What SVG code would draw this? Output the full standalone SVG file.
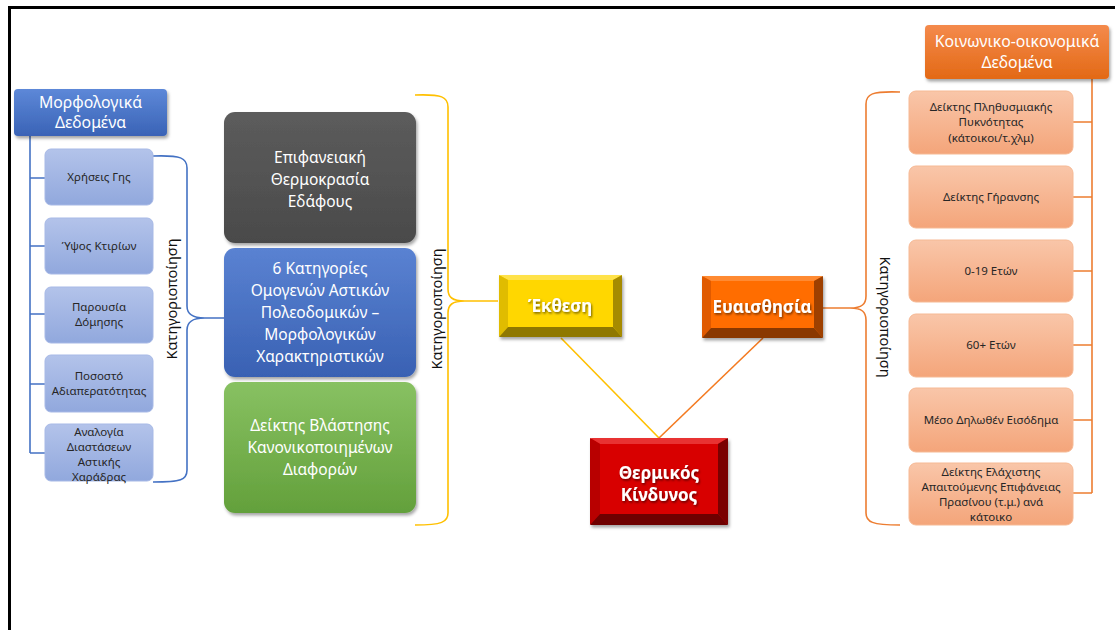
<svg xmlns="http://www.w3.org/2000/svg" width="1115" height="630" viewBox="0 0 1115 630">
<style>
text{font-family:"Noto Sans","Open Sans","DejaVu Sans",sans-serif;text-anchor:middle}
.hdr{fill:#fff;font-size:15.8px}
.big{fill:#fff;font-size:15.5px}
.small{fill:#262626;font-size:11.5px}
.bev{fill:#fff;font-size:17px;font-weight:bold}
.lbl{fill:#111;font-size:14.5px}
.conn{fill:none;stroke-width:1.6}
</style>
<defs>
<filter id="sh" x="-10%" y="-10%" width="130%" height="140%"><feDropShadow dx="1.5" dy="2.5" stdDeviation="1.8" flood-color="#000" flood-opacity="0.35"/></filter>
<filter id="ts" x="-10%" y="-20%" width="130%" height="150%"><feDropShadow dx="1" dy="1.5" stdDeviation="0.8" flood-color="#000" flood-opacity="0.55"/></filter>
<linearGradient id="gBlueH" x1="0" y1="0" x2="0" y2="1"><stop offset="0" stop-color="#5d88d8"/><stop offset="1" stop-color="#3a63b6"/></linearGradient>
<linearGradient id="gBlueL" x1="0" y1="0" x2="0" y2="1"><stop offset="0" stop-color="#b3c3ea"/><stop offset="1" stop-color="#91a8dd"/></linearGradient>
<linearGradient id="gGray" x1="0" y1="0" x2="0" y2="1"><stop offset="0" stop-color="#5c5c5c"/><stop offset="1" stop-color="#4a4a4a"/></linearGradient>
<linearGradient id="gBlue" x1="0" y1="0" x2="0" y2="1"><stop offset="0" stop-color="#5a82d2"/><stop offset="1" stop-color="#3961b3"/></linearGradient>
<linearGradient id="gGreen" x1="0" y1="0" x2="0" y2="1"><stop offset="0" stop-color="#88c162"/><stop offset="1" stop-color="#63a03b"/></linearGradient>
<linearGradient id="gOrH" x1="0" y1="0" x2="0" y2="1"><stop offset="0" stop-color="#f48a4c"/><stop offset="1" stop-color="#e36915"/></linearGradient>
<linearGradient id="gOrL" x1="0" y1="0" x2="0" y2="1"><stop offset="0" stop-color="#f9c6a9"/><stop offset="1" stop-color="#f4a57a"/></linearGradient>
</defs>
<rect width="1115" height="630" fill="#fff"/>
<path d="M9.5,630 L9.5,7.5 L1115,7.5" fill="none" stroke="#000" stroke-width="3"/>

<g id="connectors">
<path class="conn" stroke="#4472c4" d="M30,136 L30,453 M30,178 L45,178 M30,246 L45,246 M30,314 L45,314 M30,384 L45,384 M30,453 L45,453"/>
<path class="conn" stroke="#4472c4" d="M153,156 C181,155 187,158 187,168 L187,306 C187,314 192,318 205,318 L224,318 M205,318 C192,318 187,322 187,330 L187,470 C187,480 181,482 153,482"/>
<path class="conn" stroke="#ffc000" d="M415,95 C442,94 448,97 448,107 L448,289 C448,297 452,301 465,301 L498,301 M465,301 C452,301 448,305 448,313 L448,513 C448,522 442,525 415,525"/>
<path class="conn" stroke="#ed7d31" d="M900,92 C872,91 866,94 866,104 L866,296 C866,304 862,308 850,308 L823,308 M850,308 C862,308 866,312 866,320 L866,513 C866,522 872,525 900,525"/>
<path class="conn" stroke="#ed7d31" d="M1092,79 L1092,493 M1073,122 L1092,122 M1073,197 L1092,197 M1073,271 L1092,271 M1073,345 L1092,345 M1073,420 L1092,420 M1073,493 L1092,493"/>
<path class="conn" stroke="#ffc000" d="M561,338 L659,438"/>
<path class="conn" stroke="#f47a20" d="M763,338 L659,438"/>
</g>

<g id="lbl-left"><text class="lbl" transform="translate(177,299) rotate(-90)">Κατηγοριοποίηση</text></g>
<g id="lbl-mid"><text class="lbl" transform="translate(442,309) rotate(-90)">Κατηγοριοποίηση</text></g>
<g id="lbl-right"><text class="lbl" transform="translate(880,317) rotate(90)">Κατηγοριοποίηση</text></g>

<g id="morfo">
<rect x="14" y="89" width="153" height="47" rx="4" fill="url(#gBlueH)" filter="url(#sh)"/>
<text class="hdr" x="90.5" y="108">Μορφολογικά</text>
<text class="hdr" x="90.5" y="128">Δεδομένα</text>
</g>
<g id="l1"><rect x="45" y="149" width="108" height="56" rx="6" fill="url(#gBlueL)" stroke="#a7b9e6" stroke-width="1"/><text class="small" x="99" y="181">Χρήσεις Γης</text></g>
<g id="l2"><rect x="45" y="218" width="108" height="56" rx="6" fill="url(#gBlueL)" stroke="#a7b9e6" stroke-width="1"/><text class="small" x="99" y="250">Ύψος Κτιρίων</text></g>
<g id="l3"><rect x="45" y="287" width="108" height="56" rx="6" fill="url(#gBlueL)" stroke="#a7b9e6" stroke-width="1"/><text class="small" x="99" y="311">Παρουσία</text><text class="small" x="99" y="326">Δόμησης</text></g>
<g id="l4"><rect x="45" y="355" width="108" height="57" rx="6" fill="url(#gBlueL)" stroke="#a7b9e6" stroke-width="1"/><text class="small" x="99" y="380">Ποσοστό</text><text class="small" x="99" y="395">Αδιαπερατότητας</text></g>
<g id="l5"><rect x="45" y="424" width="108" height="57" rx="6" fill="url(#gBlueL)" stroke="#a7b9e6" stroke-width="1"/><text class="small" x="99" y="436">Αναλογία</text><text class="small" x="99" y="451">Διαστάσεων</text><text class="small" x="99" y="466">Αστικής</text><text class="small" x="99" y="481">Χαράδρας</text></g>

<g id="lst"><rect x="224" y="112" width="192" height="131" rx="11" fill="url(#gGray)" filter="url(#sh)"/>
<text class="big" x="320" y="163">Επιφανειακή</text><text class="big" x="320" y="185">Θερμοκρασία</text><text class="big" x="320" y="207">Εδάφους</text></g>
<g id="lcz"><rect x="224" y="248" width="192" height="129" rx="11" fill="url(#gBlue)" filter="url(#sh)"/>
<text class="big" x="320" y="274">6 Κατηγορίες</text><text class="big" x="320" y="296">Ομογενών Αστικών</text><text class="big" x="320" y="318">Πολεοδομικών –</text><text class="big" x="320" y="340">Μορφολογικών</text><text class="big" x="320" y="362">Χαρακτηριστικών</text></g>
<g id="ndvi"><rect x="224" y="382" width="192" height="131" rx="11" fill="url(#gGreen)" filter="url(#sh)"/>
<text class="big" x="320" y="431">Δείκτης Βλάστησης</text><text class="big" x="320" y="453">Κανονικοποιημένων</text><text class="big" x="320" y="475">Διαφορών</text></g>

<g id="ekthesi" filter="url(#sh)">
<rect x="499" y="275" width="123" height="62" rx="3" fill="#ffd700"/>
<polygon points="499,275 622,275 613,280 508,280" fill="#ffe24a"/>
<polygon points="499,275 508,280 508,327 499,337" fill="#e0bc00"/>
<polygon points="622,275 622,337 613,327 613,280" fill="#a68b00"/>
<polygon points="499,337 508,327 613,327 622,337" fill="#8f7800"/>
<text class="bev" x="560" y="312" filter="url(#ts)">Έκθεση</text>
</g>
<g id="euais" filter="url(#sh)">
<rect x="702" y="276" width="121" height="62" rx="3" fill="#ff6d00"/>
<polygon points="702,276 823,276 814,281 711,281" fill="#ff8a33"/>
<polygon points="702,276 711,281 711,328 702,338" fill="#e05a00"/>
<polygon points="823,276 823,338 814,328 814,281" fill="#9e4000"/>
<polygon points="702,338 711,328 814,328 823,338" fill="#8a3800"/>
<text class="bev" x="762" y="313" filter="url(#ts)">Ευαισθησία</text>
</g>
<g id="kindynos" filter="url(#sh)">
<rect x="590" y="438" width="138" height="87" rx="4" fill="#d80000"/>
<polygon points="590,438 728,438 718,444 600,444" fill="#e83030"/>
<polygon points="590,438 600,444 600,514 590,525" fill="#b80000"/>
<polygon points="728,438 728,525 718,514 718,444" fill="#7a0000"/>
<polygon points="590,525 600,514 718,514 728,525" fill="#6e0000"/>
<text class="bev" x="659" y="479" filter="url(#ts)">Θερμικός</text>
<text class="bev" x="659" y="501" filter="url(#ts)">Κίνδυνος</text>
</g>

<g id="koin">
<rect x="925" y="25" width="184" height="54" rx="4" fill="url(#gOrH)" filter="url(#sh)"/>
<text class="hdr" x="1017" y="47">Κοινωνικο-οικονομικά</text>
<text class="hdr" x="1017" y="68">Δεδομένα</text>
</g>
<g id="r1"><rect x="909" y="91" width="164" height="63" rx="7" fill="url(#gOrL)" stroke="#f6b994" stroke-width="1"/><text class="small" x="991" y="111">Δείκτης Πληθυσμιακής</text><text class="small" x="991" y="126">Πυκνότητας</text><text class="small" x="991" y="142">(κάτοικοι/τ.χλμ)</text></g>
<g id="r2"><rect x="909" y="166" width="164" height="62" rx="7" fill="url(#gOrL)" stroke="#f6b994" stroke-width="1"/><text class="small" x="991" y="201">Δείκτης Γήρανσης</text></g>
<g id="r3"><rect x="909" y="240" width="164" height="62" rx="7" fill="url(#gOrL)" stroke="#f6b994" stroke-width="1"/><text class="small" x="991" y="275">0-19 Ετών</text></g>
<g id="r4"><rect x="909" y="314" width="164" height="63" rx="7" fill="url(#gOrL)" stroke="#f6b994" stroke-width="1"/><text class="small" x="991" y="349">60+ Ετών</text></g>
<g id="r5"><rect x="909" y="388" width="164" height="64" rx="7" fill="url(#gOrL)" stroke="#f6b994" stroke-width="1"/><text class="small" x="991" y="424">Μέσο Δηλωθέν Εισόδημα</text></g>
<g id="r6"><rect x="909" y="463" width="164" height="62" rx="7" fill="url(#gOrL)" stroke="#f6b994" stroke-width="1"/><text class="small" x="991" y="476">Δείκτης Ελάχιστης</text><text class="small" x="991" y="491">Απαιτούμενης Επιφάνειας</text><text class="small" x="991" y="506">Πρασίνου (τ.μ.) ανά</text><text class="small" x="991" y="521">κάτοικο</text></g>
</svg>
